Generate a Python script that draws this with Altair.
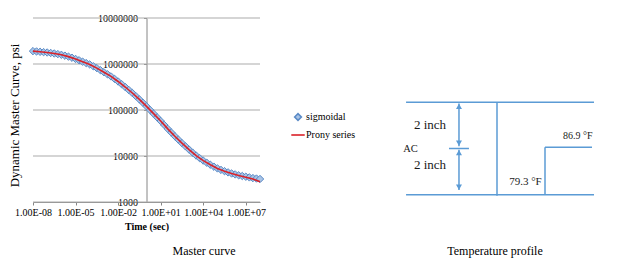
import math
import altair as alt
import pandas as pd

# ---------------- Master curve ----------------
sig_log_time = [-8, -7.75, -7.5, -7.25, -7, -6.75, -6.5, -6.25, -6, -5.75, -5.5, -5.25,
                -5, -4.75, -4.5, -4.25, -4, -3.75, -3.5, -3.25, -3, -2.75, -2.5, -2.25,
                -2, -1.75, -1.5, -1.25, -1, -0.75, -0.5, -0.25, 0, 0.25, 0.5, 0.75,
                1, 1.25, 1.5, 1.75, 2, 2.25, 2.5, 2.75, 3, 3.25, 3.5, 3.75,
                4, 4.25, 4.5, 4.75, 5, 5.25, 5.5, 5.75, 6, 6.25, 6.5, 6.75,
                7, 7.25, 7.5, 7.75, 8]
sig_log_modulus = [6.280, 6.273, 6.265, 6.258, 6.250, 6.240, 6.228, 6.215, 6.200, 6.181, 6.160, 6.136,
                   6.110, 6.081, 6.050, 6.020, 5.990, 5.951, 5.910, 5.866, 5.820, 5.776, 5.730, 5.676,
                   5.620, 5.561, 5.500, 5.436, 5.370, 5.301, 5.230, 5.156, 5.080, 5.001, 4.920, 4.840,
                   4.760, 4.675, 4.590, 4.510, 4.430, 4.355, 4.280, 4.210, 4.140, 4.073, 4.010, 3.953,
                   3.900, 3.853, 3.810, 3.768, 3.730, 3.698, 3.670, 3.644, 3.620, 3.600, 3.580, 3.565,
                   3.550, 3.535, 3.520, 3.510, 3.500]

prony_log_time = [-8, -7.5, -7, -6.5, -6, -5.5, -5, -4.5, -4, -3.5, -3, -2.5, -2, -1.5, -1, -0.5,
                  0, 0.5, 1, 1.5, 2, 2.5, 3, 3.5, 4, 4.5, 5, 5.5, 6, 6.5, 7, 7.5, 8]
prony_log_modulus = [6.28, 6.265, 6.25, 6.228, 6.20, 6.16, 6.11, 6.05, 5.99, 5.91, 5.82, 5.73,
                     5.62, 5.50, 5.37, 5.23, 5.08, 4.92, 4.76, 4.59, 4.43, 4.28, 4.14, 4.01,
                     3.90, 3.81, 3.73, 3.67, 3.62, 3.575, 3.54, 3.50, 3.44]

series_names = ["sigmoidal", "Prony series"]
x_ticks = [1e-8, 1e-5, 1e-2, 1e1, 1e4, 1e7]
x_tick_labels = ["1.00E-08", "1.00E-05", "1.00E-02", "1.00E+01", "1.00E+04", "1.00E+07"]
y_ticks = [1e3, 1e4, 1e5, 1e6, 1e7]
x_domain = [1e-8, 1e8]
y_domain = [1e3, 1e7]
y_axis_cross = 1.0  # vertical axis crosses at t = 1 s

# ---------------- Temperature profile (schematic) ----------------
layer_depths = [0, 2, 4]          # inch
temp_lower = 79.3                 # °F
temp_upper = 86.9                 # °F
frame_temps = [64.9, 94.66]       # extent of the horizontal boundary lines (°F axis units)
step_end_temp = 94.34
arrow_temp = 73.28
tick_half = 1.58
label_text = ["2 inch", "AC", "2 inch", "86.9 °F", "79.3 °F"]
label_temp = [68.69, 65.6, 68.69, 92.1, 83.8]
label_depth = [1.0, 2.0, 2.72, 1.45, 3.44]
label_size = [13, 10.5, 13, 10, 11]

# ---------------- layout ----------------
W, H = 227, 184
PAD_L, PAD_T = 33, 18
SERIF = "Liberation Serif"
BLUE_MARK = "#5A8AC6"
RED = "#DA2128"
DIAG = "#5B9BD5"
GRID = "#ABABAB"

sig_df = pd.DataFrame({"t": [10 ** v for v in sig_log_time],
                       "E": [10 ** v for v in sig_log_modulus],
                       "series": "sigmoidal"})
prony_df = pd.DataFrame({"t": [10 ** v for v in prony_log_time],
                         "E": [10 ** v for v in prony_log_modulus]})
grid_df = pd.DataFrame({"E": y_ticks})

exps = [round(math.log10(v)) for v in x_ticks]
label_expr = "[" + ",".join("'%s'" % s for s in x_tick_labels) + "][indexof([" + \
    ",".join(str(e) for e in exps) + "], round(log(datum.value)/LN10))]"

frac = (math.log10(y_axis_cross) - math.log10(x_domain[0])) / (math.log10(x_domain[1]) - math.log10(x_domain[0]))
axis_px = W * frac

x_enc = alt.X("t:Q", scale=alt.Scale(type="log", domain=x_domain, nice=False),
              axis=alt.Axis(values=x_ticks, labelExpr=label_expr, title="Time (sec)",
                            grid=False, labelFont=SERIF, labelFontSize=10, labelColor="#000",
                            labelFlush=False, labelOverlap=False, labelBound=False,
                            tickSize=3, tickColor="#868686", domainColor="#868686",
                            labelPadding=2, titleFont=SERIF, titleFontSize=10,
                            titleFontWeight="bold", titleColor="#000", titlePadding=4))
y_enc = alt.Y("E:Q", scale=alt.Scale(type="log", domain=y_domain, nice=False),
              axis=alt.Axis(values=y_ticks, format="d", grid=False, offset=-axis_px,
                            labelFont=SERIF, labelFontSize=10, labelColor="#000",
                            labelFlush=False, labelOverlap=False, labelBound=False,
                            tickSize=3, tickColor="#868686", domainColor="#868686",
                            labelPadding=6, title="Dynamic Master Curve, psi",
                            titleFont=SERIF, titleFontSize=13, titleFontWeight="normal",
                            titleColor="#000", titleX=14 - PAD_L - axis_px,
                            titleY=115 - PAD_T, titleAngle=270, titleBaseline="middle",
                            titleAlign="center"))

leg = alt.Legend(orient="none", legendX=260, legendY=94, title=None, labelFont=SERIF,
                 labelFontSize=10, labelColor="#000", symbolSize=45, symbolStrokeWidth=1.6,
                 symbolFillColor="#C6D9F1", rowPadding=6, labelOffset=3, padding=0)

grid = alt.Chart(grid_df).mark_rule(color=GRID, strokeWidth=1.2).encode(y=y_enc)
points = alt.Chart(sig_df).mark_point(filled=False, fill="#A9C4E6", fillOpacity=1,
                                      strokeWidth=1, size=55).encode(
    x=x_enc, y=y_enc,
    color=alt.Color("series:N", scale=alt.Scale(domain=series_names, range=[BLUE_MARK, RED]), legend=leg),
    shape=alt.Shape("series:N", scale=alt.Scale(domain=series_names, range=["diamond", "M-2,0H2"]), legend=leg),
)
line = alt.Chart(prony_df).mark_line(color=RED, strokeWidth=1.6).encode(x=x_enc, y=y_enc)
master = alt.layer(grid, points, line)

# ---------------- diagram scales ----------------
PX_PER_F = 48 / (temp_upper - temp_lower)
PX_PER_IN = 23.1
x0 = temp_lower - (497 - PAD_L) / PX_PER_F
tdom = [x0, x0 + W / PX_PER_F]
d0 = -(102.3 - PAD_T) / PX_PER_IN
ddom = [d0, d0 + H / PX_PER_IN]
head_off = 3.0 / PX_PER_IN

top, mid, bot = layer_depths
seg_df = pd.DataFrame([
    {"x": frame_temps[0], "x2": frame_temps[1], "y": top, "y2": top},
    {"x": frame_temps[0], "x2": frame_temps[1], "y": bot, "y2": bot},
    {"x": temp_lower, "x2": temp_lower, "y": top, "y2": bot + 0.05},
    {"x": temp_upper, "x2": temp_upper, "y": mid - 0.05, "y2": bot},
    {"x": temp_upper, "x2": step_end_temp, "y": mid - 0.05, "y2": mid - 0.05},
    {"x": arrow_temp - tick_half, "x2": arrow_temp + tick_half, "y": mid, "y2": mid},
    {"x": arrow_temp, "x2": arrow_temp, "y": top + 0.05, "y2": mid - 0.1},
    {"x": arrow_temp, "x2": arrow_temp, "y": mid + 0.05, "y2": bot - 0.2},
])
head_df = pd.DataFrame([
    {"x": arrow_temp, "y": top + 0.05 + head_off, "shape": "triangle-up"},
    {"x": arrow_temp, "y": mid - 0.1 - head_off, "shape": "triangle-down"},
    {"x": arrow_temp, "y": mid + 0.05 + head_off, "shape": "triangle-up"},
    {"x": arrow_temp, "y": bot - 0.2 - head_off, "shape": "triangle-down"},
])
lab_df = pd.DataFrame({"text": label_text, "x": label_temp, "y": label_depth, "fs": label_size})

dx = lambda f: alt.X(f, scale=alt.Scale(domain=tdom, nice=False, zero=False), axis=None)
dy = lambda f: alt.Y(f, scale=alt.Scale(domain=ddom, nice=False, zero=False, reverse=True), axis=None)

segs = alt.Chart(seg_df).mark_rule(color=DIAG, strokeWidth=1.5).encode(
    x=dx("x:Q"), x2="x2:Q", y=dy("y:Q"), y2="y2:Q")
heads = alt.Chart(head_df).mark_point(filled=True, color=DIAG, size=36, opacity=1).encode(
    x=dx("x:Q"), y=dy("y:Q"), shape=alt.Shape("shape:N", scale=None))
labs = alt.Chart(lab_df).mark_text(font=SERIF, color="#1a1a1a", baseline="middle", align="center").encode(
    x=dx("x:Q"), y=dy("y:Q"), text="text:N", size=alt.Size("fs:Q", scale=None))
diagram = alt.layer(segs, heads, labs)

cap1 = alt.Chart(pd.DataFrame({"c": ["Master curve"]})).mark_text(
    font=SERIF, fontSize=12, color="#000", baseline="middle", align="center").encode(
    text="c:N", x=alt.value(204 - PAD_L), y=alt.value(250.7 - PAD_T))
cap2 = alt.Chart(pd.DataFrame({"c": ["Temperature profile"]})).mark_text(
    font=SERIF, fontSize=12, color="#000", baseline="middle", align="center").encode(
    text="c:N", x=alt.value(495 - PAD_L), y=alt.value(250.7 - PAD_T))

chart = alt.layer(master, diagram, cap1, cap2).resolve_scale(
    x="independent", y="independent"
).properties(
    width=W, height=H,
    autosize=alt.AutoSizeParams(type="none"),
    padding={"left": PAD_L, "top": PAD_T, "right": 629 - PAD_L - W, "bottom": 262 - PAD_T - H},
    background="white",
).configure_view(stroke=None).configure_axis(
    labelFont=SERIF, titleFont=SERIF
).configure_legend(labelFont=SERIF).configure_text(font=SERIF)

chart.save("out.html", embed_options={"renderer": "svg", "actions": False})
